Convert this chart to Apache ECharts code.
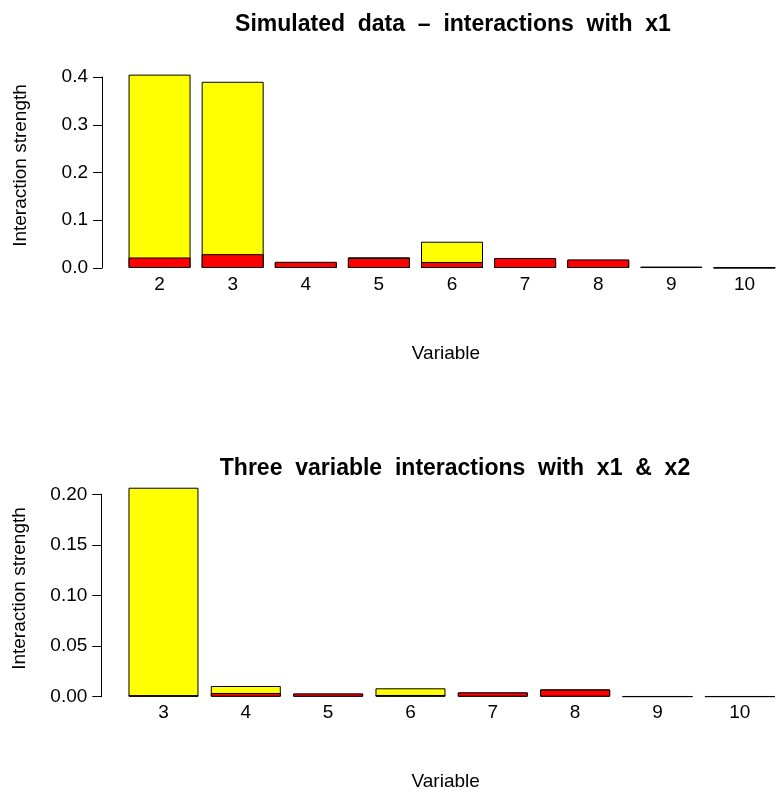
<!DOCTYPE html>
<html>
<head>
<meta charset="utf-8">
<title>Interaction strength</title>
<script src="https://cdn.jsdelivr.net/npm/echarts@6/dist/echarts.min.js"></script>
<style>
  html, body { margin: 0; padding: 0; background: #fff; }
  #chart { width: 781px; height: 797px; }
</style>
</head>
<body>
<div id="chart"></div>
<script>
// top panel: interactions with x1
const topVars = ['2', '3', '4', '5', '6', '7', '8', '9', '10'];
const topYellow = [0.405, 0.390, 0.012, 0.0225, 0.055, 0.019, 0.016, 0.003, 0.0015];
const topRed = [0.022, 0.029, 0.013, 0.021, 0.0125, 0.021, 0.018, 0.002, 0.0005];

// bottom panel: three variable interactions with x1 & x2
const bottomVars = ['3', '4', '5', '6', '7', '8', '9', '10'];
const bottomYellow = [0.2065, 0.0106, 0.0025, 0.0083, 0.004, 0.0073, 0.0004, 0.0004];
const bottomRed = [0.0015, 0.0037, 0.0033, 0.0017, 0.0043, 0.007, 0.0002, 0.0002];

const FONT = "'Liberation Sans', Arial, sans-serif";

let chart = echarts.init(document.getElementById('chart'));

function yAxisOf (gridIndex, max, interval, digits) {
  return {
    type: 'value',
    gridIndex: gridIndex,
    min: 0,
    max: max,
    interval: interval,
    offset: 21,
    name: 'Interaction strength',
    nameLocation: 'middle',
    nameGap: 72,
    nameTextStyle: { fontSize: 19, color: '#000', fontFamily: FONT, padding: [0, 0, 0, 14] },
    axisLine: { show: true, lineStyle: { color: '#000', width: 1 } },
    axisTick: { show: true, length: 9, lineStyle: { color: '#000' } },
    axisLabel: {
      fontSize: 19,
      color: '#000',
      fontFamily: FONT,
      margin: 14,
      formatter: v => v.toFixed(digits)
    },
    splitLine: { show: false }
  }
}

function xAxisOf (gridIndex, data) {
  return {
    type: 'category',
    gridIndex: gridIndex,
    data: data,
    boundaryGap: true,
    name: 'Variable',
    nameLocation: 'middle',
    nameGap: 76,
    nameTextStyle: { fontSize: 19, color: '#000', fontFamily: FONT, padding: [0, 12, 0, 0] },
    axisLine: { show: false },
    axisTick: { show: false },
    axisLabel: { fontSize: 19, color: '#000', fontFamily: FONT, margin: 7, interval: 0 }
  }
}

function barSeries (axisIndex, data, color, width) {
  return {
    type: 'bar',
    xAxisIndex: axisIndex,
    yAxisIndex: axisIndex,
    data: data,
    barWidth: width,
    barGap: '-100%',
    clip: false,
    itemStyle: { color: color, borderColor: '#000', borderWidth: 1 },
    emphasis: { disabled: true }
  }
}

let option = {
  animation: false,
  backgroundColor: '#fff',
  title: [
    {
      text: 'Simulated  data  –  interactions  with  x1',
      left: 448,
      top: 8,
      textAlign: 'center',
      textStyle: { fontSize: 23, fontWeight: 'bold', color: '#000', fontFamily: FONT }
    },
    {
      text: 'Three  variable  interactions  with  x1  &  x2',
      left: 450,
      top: 452,
      textAlign: 'center',
      textStyle: { fontSize: 23, fontWeight: 'bold', color: '#000', fontFamily: FONT }
    }
  ],
  grid: [
    { left: 123, top: 77, width: 669.6, height: 191 },
    { left: 122.3, top: 494.3, width: 672, height: 202.4 }
  ],
  xAxis: [xAxisOf(0, topVars), xAxisOf(1, bottomVars)],
  yAxis: [yAxisOf(0, 0.4, 0.1, 1), yAxisOf(1, 0.2, 0.05, 2)],
  series: [
    barSeries(0, topYellow, '#ffff00', 62),
    barSeries(0, topRed, '#ff0000', 62),
    barSeries(1, bottomYellow, '#ffff00', 70),
    barSeries(1, bottomRed, '#ff0000', 70)
  ]
};

chart.setOption(option);
</script>
</body>
</html>
